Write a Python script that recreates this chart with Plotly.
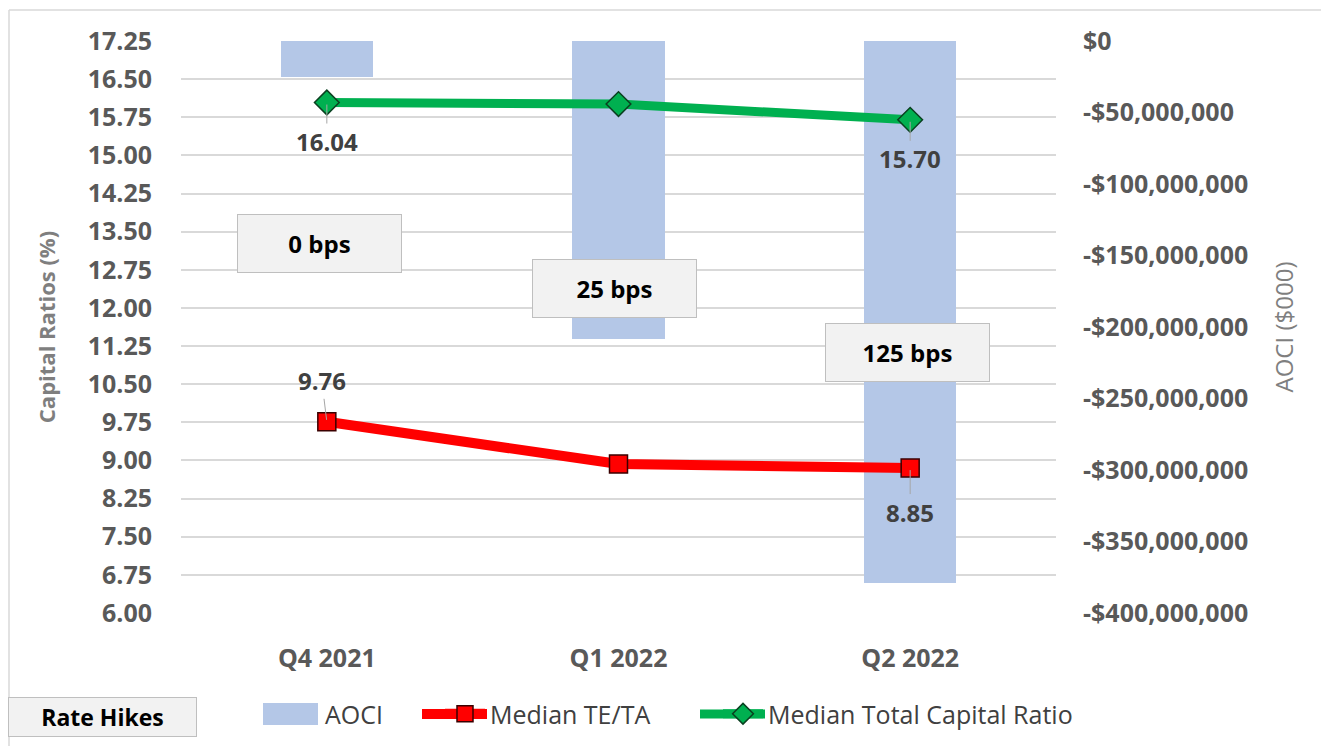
import plotly.graph_objects as go

# ---- data ----
quarters = ["Q4 2021", "Q1 2022", "Q2 2022"]
aoci = [-25_000_000, -208_500_000, -379_000_000]
median_te_ta = [9.76, 8.93, 8.85]
median_total_capital = [16.04, 16.01, 15.70]
rate_hikes = ["0 bps", "25 bps", "125 bps"]
left_ticks = [6.00 + 0.75 * i for i in range(16)]
right_tickvals = [0, -50e6, -100e6, -150e6, -200e6, -250e6, -300e6, -350e6, -400e6]
right_ticktext = ["$0", "-$50,000,000", "-$100,000,000", "-$150,000,000", "-$200,000,000",
                  "-$250,000,000", "-$300,000,000", "-$350,000,000", "-$400,000,000"]

BAR_COLOR = "#b4c7e7"
RED = "#ff0000"
GREEN = "#00b050"

L, R, T, B = 181, 265, 41, 133
W, H = 1321, 746
PW, PH = W - L - R, H - T - B

def px(x):
    return (x - L) / PW

def py(y):
    return (H - B - y) / PH

TICK_FONT = dict(family="Open Sans", size=25, color="#595959", weight="bold")
LEGEND_FONT = dict(family="Open Sans", size=25, color="#404040")

fig = go.Figure()
fig.add_trace(go.Bar(
    x=quarters, y=aoci, name="AOCI", marker=dict(color=BAR_COLOR, line=dict(width=0)),
    width=0.316, yaxis="y", hoverinfo="skip", legend="legend",
))
fig.add_trace(go.Scatter(
    x=quarters, y=median_te_ta, name="Median TE/TA", yaxis="y2", mode="lines+markers",
    line=dict(color=RED, width=10),
    marker=dict(symbol="square", size=18, color=RED, line=dict(color="#3a0000", width=1.5)),
    legend="legend2",
))
fig.add_trace(go.Scatter(
    x=quarters, y=median_total_capital, name="Median Total Capital Ratio", yaxis="y2",
    mode="lines+markers",
    line=dict(color=GREEN, width=9),
    marker=dict(symbol="diamond", size=19, color=GREEN, line=dict(color="#0a4020", width=1.5)),
    legend="legend3",
))

annotations = []
# data labels
label_font = dict(family="Open Sans", size=24, color="#404040", weight="bold")
for i, (q, v) in enumerate(zip(quarters, median_total_capital)):
    if i == 1:
        continue
    annotations.append(dict(x=q, y=v, xref="x", yref="y2", text=f"{v:.2f}", font=label_font,
                            showarrow=True, arrowhead=0, arrowwidth=1, arrowcolor="#a6a6a6",
                            ax=0, ay=39, standoff=2))
for i, (q, v) in enumerate(zip(quarters, median_te_ta)):
    if i == 1:
        continue
    annotations.append(dict(x=q, y=v, xref="x", yref="y2", text=f"{v:.2f}", font=label_font,
                            showarrow=True, arrowhead=0, arrowwidth=1, arrowcolor="#a6a6a6",
                            ax=-5 if i == 0 else 0, ay=-41 if i == 0 else 44, standoff=2))

# rate hike boxes
box_pos = [(-7.5, 243.5), (-4.5, 288.5), (-2.5, 352)]
for q, txt, (dx, cy) in zip(quarters, rate_hikes, box_pos):
    annotations.append(dict(x=q, y=py(cy), xref="x", yref="paper", xshift=dx, text=f"<b>{txt}</b>",
                            showarrow=False, width=163, height=57, borderpad=0,
                            xanchor="center", yanchor="middle",
                            bgcolor="#f2f2f2", bordercolor="#bfbfbf", borderwidth=1,
                            font=dict(family="Open Sans", size=24, color="#000000")))

annotations.append(dict(x=px(102.5), y=py(717), xref="paper", yref="paper", text="<b>Rate Hikes</b>",
                        showarrow=False, width=187, height=38, borderpad=0,
                        xanchor="center", yanchor="middle",
                        bgcolor="#f2f2f2", bordercolor="#bfbfbf", borderwidth=1,
                        font=dict(family="Open Sans", size=23, color="#000000")))

shapes = [
    dict(type="line", xref="paper", yref="paper", x0=px(9), x1=px(9), y0=py(10), y1=py(H + 5),
         line=dict(color="#d9d9d9", width=1.5)),
    dict(type="line", xref="paper", yref="paper", x0=px(9), x1=px(W + 5), y0=py(10), y1=py(10),
         line=dict(color="#d9d9d9", width=1.5)),
    # enlarged legend keys (sit under the legend's own symbols)
    dict(type="rect", xref="paper", yref="paper", x0=px(263), x1=px(318), y0=py(725), y1=py(703),
         fillcolor=BAR_COLOR, line=dict(width=0)),
    dict(type="line", xref="paper", yref="paper", x0=px(422), x1=px(487), y0=py(714), y1=py(714),
         line=dict(color=RED, width=10)),
    dict(type="line", xref="paper", yref="paper", x0=px(700), x1=px(765), y0=py(714), y1=py(714),
         line=dict(color=GREEN, width=9)),
]

legend_common = dict(orientation="h", xanchor="left", yanchor="middle", y=py(714),
                     font=LEGEND_FONT, bgcolor="rgba(0,0,0,0)", itemwidth=40)

fig.update_layout(
    width=W, height=H,
    margin=dict(l=L, r=R, t=T, b=B, autoexpand=False),
    paper_bgcolor="white", plot_bgcolor="white",
    bargap=0,
    showlegend=True,
    legend=dict(x=px(275), **legend_common),
    legend2=dict(x=px(440), **legend_common),
    legend3=dict(x=px(718), **legend_common),
    xaxis=dict(type="category", showgrid=False, showline=False, zeroline=False,
               tickfont=dict(family="Open Sans", size=25, color="#595959", weight="bold"),
               ticks="", ticklabelstandoff=28),
    yaxis=dict(side="right", range=[-400e6, 0], tickvals=right_tickvals, ticktext=right_ticktext,
               showgrid=False, zeroline=False, showline=False, ticks="",
               tickfont=TICK_FONT, ticklabelstandoff=26,
               title=dict(text="AOCI ($000)", standoff=28,
                          font=dict(family="Open Sans", size=24, color="#7f7f7f"))),
    yaxis2=dict(side="left", overlaying="y", range=[6, 17.25], tickvals=left_ticks,
                tickformat=".2f", showgrid=True, gridcolor="#d9d9d9", gridwidth=1.5,
                zeroline=False, showline=False, ticks="", tickfont=TICK_FONT,
                ticklabelstandoff=28,
                title=dict(text="Capital Ratios (%)", standoff=25,
                           font=dict(family="Open Sans", size=22, color="#7f7f7f", weight="bold"))),
    annotations=annotations,
    shapes=shapes,
)

fig.write_html("out.html")
